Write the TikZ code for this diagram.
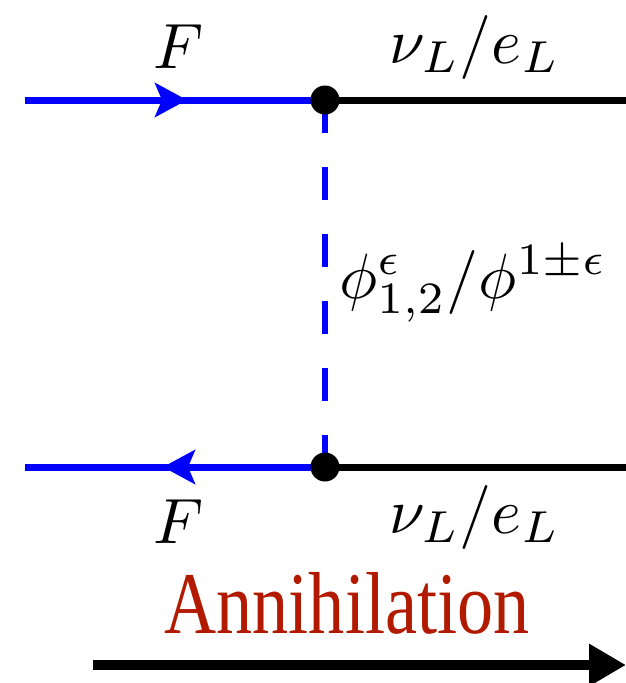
\documentclass[tikz,border=0pt]{standalone}
\usepackage{fontspec}
\usepackage{graphicx}
\newfontfamily\annfont{Liberation Serif}
\usetikzlibrary{arrows.meta,decorations.markings}
\definecolor{fblue}{RGB}{0,0,255}
\definecolor{annred}{RGB}{178,26,0}
\newcommand{\bigmath}[2]{\scalebox{#1}{$#2$}}
\tikzset{
  vertex/.style={circle,fill=black,inner sep=0pt,minimum size=29pt},
  fermion/.style={color=fblue,line width=7pt,postaction={decorate},
    decoration={markings,mark=at position 162pt with {\arrow{Stealth[length=32pt,width=34pt,inset=7pt]}}}},
  lepton/.style={draw=black,line width=7pt},
  scalar/.style={draw=fblue,line width=6pt,dash pattern=on 33pt off 34pt},
  lbl/.style={anchor=base,inner sep=0pt},
  annlbl/.style={anchor=base,inner sep=0pt,text=annred,font=\annfont\fontsize{88}{100}\selectfont},
  timearrow/.style={line width=10pt,-{Triangle[length=37pt,width=40pt]}}
}
\begin{document}
\begin{tikzpicture}[x=1pt,y=-1pt]
\useasboundingbox (0,0) rectangle (626,683);
\coordinate (L1) at (25,100);
\coordinate (R1) at (626,100);
\coordinate (L2) at (25,467);
\coordinate (R2) at (626,467);
\coordinate (P1) at (325,100);
\coordinate (P2) at (325,467);
\coordinate (A0) at (93,665);
\coordinate (A1) at (626,665);
\draw[scalar] (P1) -- (P2);
\draw[fermion] (L1) -- (P1);
\draw[fermion] (P2) -- (L2);
\draw[lepton] (P1) -- (R1);
\draw[lepton] (P2) -- (R2);
\node[vertex] (v1) at (P1) {};
\node[vertex] (v2) at (P2) {};
\node[lbl] (f1) at (179,68) {\bigmath{6.4}{F}};
\node[lbl] (n1) at (475,63) {\bigmath{6.4}{\nu_L/e_L}};
\node[lbl] (f2) at (179,543) {\bigmath{6.4}{F}};
\node[lbl] (n2) at (475,533) {\bigmath{6.4}{\nu_L/e_L}};
\node[lbl] (phi) at (473,298) {\bigmath{6.4}{\phi^{\epsilon}_{1,2}/\phi^{1\pm\epsilon}}};
\node[annlbl] (ann) at (347,633) {\scalebox{0.82}[1]{Annihilation}};
\draw[timearrow] (A0) -- (A1);
\end{tikzpicture}
\end{document}
